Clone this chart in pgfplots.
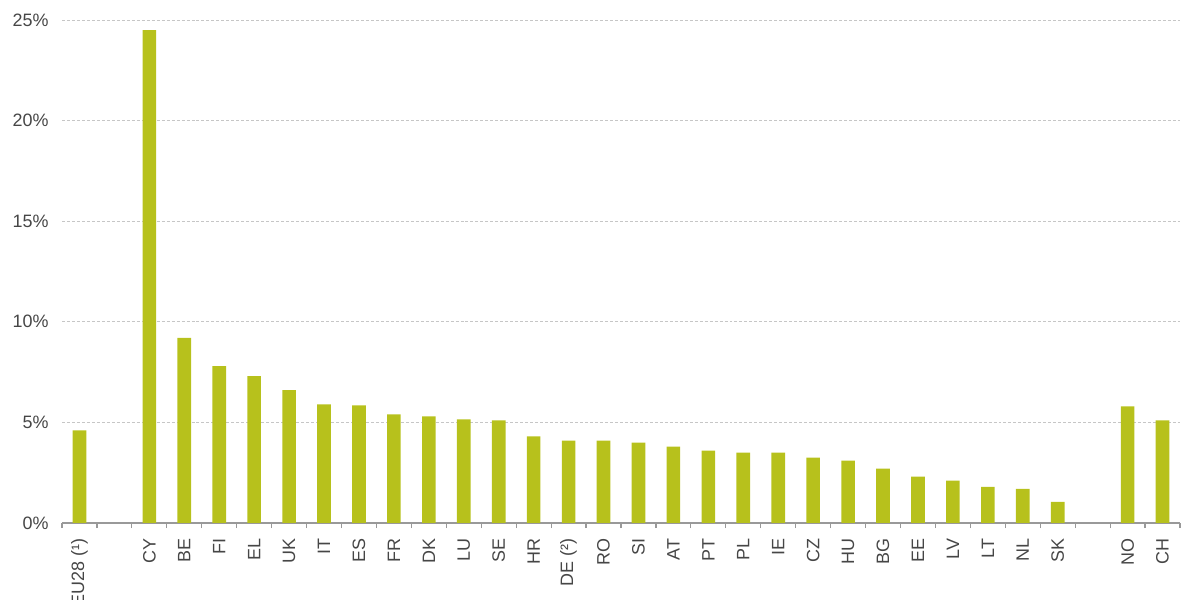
\documentclass[border=0pt]{standalone}
\usepackage{pgfplots}
\pgfplotsset{compat=1.18}
\usepackage{fontspec}
\setmainfont{Liberation Sans}
\definecolor{barc}{RGB}{183,193,28}
\definecolor{lab}{RGB}{70,70,70}
\begin{document}
\begin{tikzpicture}
\begin{axis}[
  scale only axis,
  width=559bp, height=251.5bp,
  xmin=-0.5, xmax=31.5,
  ymin=0, ymax=25,
  ybar, bar width=0.39,
  axis x line*=bottom, axis y line*=left,
  y axis line style={draw=none},
  x axis line style={draw=gray!80, line width=0.6pt},
  xtick={0,...,31},
  xticklabels={EU28 (¹),,CY,BE,FI,EL,UK,IT,ES,FR,DK,LU,SE,HR,DE (²),RO,SI,AT,PT,PL,IE,CZ,HU,BG,EE,LV,LT,NL,SK,,NO,CH},
  major x tick style={draw=none},
  minor xtick={-0.5,0.5,...,31.5},
  minor x tick style={draw=gray!80, line width=0.6pt},
  minor tick length=2.5bp,
  tick align=outside,
  ytick={0,5,10,15,20,25},
  yticklabels={0\%,5\%,10\%,15\%,20\%,25\%},
  major y tick style={draw=none},
  ymajorgrids,
  major grid style={dash pattern=on 1.5pt off 1pt, draw=gray!45, line width=0.4pt},
  xticklabel style={rotate=90, anchor=east, font=\fontsize{9}{10}\selectfont, text=lab},
  yticklabel style={font=\fontsize{9}{10}\selectfont, text=lab, xshift=1bp},
  /pgf/number format/assume math mode=true,
]
\addplot[fill=barc, draw=none] coordinates {
(0,4.6) (2,24.5) (3,9.2) (4,7.8) (5,7.3) (6,6.6) (7,5.9) (8,5.85) (9,5.4) (10,5.3)
(11,5.15) (12,5.1) (13,4.3) (14,4.1) (15,4.1) (16,4.0) (17,3.8) (18,3.6) (19,3.5) (20,3.5)
(21,3.25) (22,3.1) (23,2.7) (24,2.3) (25,2.1) (26,1.8) (27,1.7) (28,1.05) (30,5.8) (31,5.1)
};
\end{axis}
\pgfresetboundingbox
\path (-31bp,-38.5bp) rectangle (560bp,261.5bp);
\end{tikzpicture}
\end{document}
